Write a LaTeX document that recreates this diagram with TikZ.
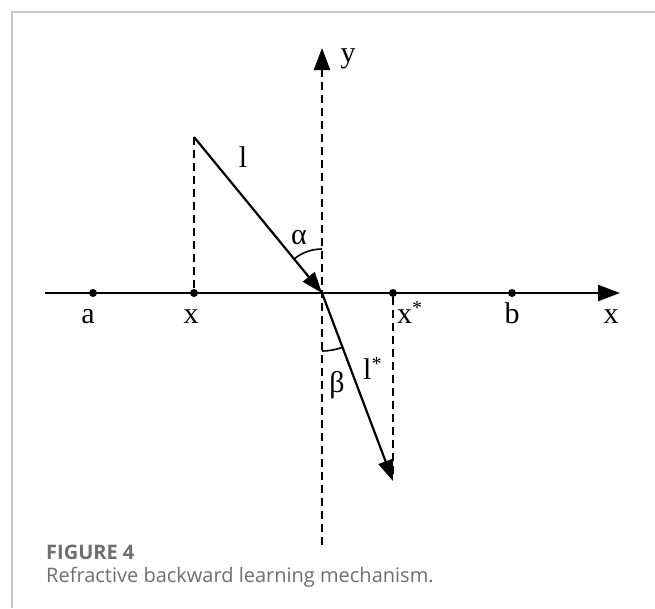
\documentclass[tikz,border=0pt]{standalone}
\usepackage{fontspec}
\setmainfont{Liberation Serif}
\newfontfamily\capfont{Open Sans}
\usetikzlibrary{arrows.meta}
\definecolor{framegray}{HTML}{C8C8C8}
\definecolor{capgray}{HTML}{6E6E6E}
\tikzset{
  axis/.style={line width=2.4pt,-{Triangle[length=22pt,width=16pt]}},
  ray/.style={line width=2.2pt,-{Triangle[length=21pt,width=15pt]}},
  guide/.style={line width=2.2pt,dash pattern=on 8pt off 5pt},
  pt/.style={circle,fill=black,inner sep=0pt,minimum size=8pt},
  lbl/.style={font=\fontsize{30}{30}\selectfont,inner sep=0pt,anchor=base},
  captext/.style={font=\capfont\fontsize{20}{20}\selectfont,text=capgray,inner sep=0pt,anchor=base west},
}
\begin{document}
\begin{tikzpicture}[x=1pt,y=-1pt]
\useasboundingbox (0,0) rectangle (655,608);
\draw[framegray,line width=1.2pt] (12,608) -- (12,12) -- (655,12);
% coordinates
\coordinate (O) at (322,293);
\coordinate (L) at (45,293);
\coordinate (R) at (620,293);
\coordinate (Yb) at (322,545);
\coordinate (Yt) at (322,48);
\coordinate (S) at (194,137);
\coordinate (E) at (393,481);
\coordinate (Eb) at (393,478);
% axes
\draw[guide] (Yb) -- (322,72);
\draw[axis] (322,74) -- (Yt);
\draw[axis] (L) -- (R);
% guides
\draw[guide] (S) -- (194,293);
\node[pt] (pa) at (93,293) {};
\node[pt] (px) at (194,293) {};
\node[pt] (pxs) at (393,293) {};
\node[pt] (pb) at (512,293) {};
\draw[guide] (pxs) -- (Eb);
% rays
\draw[ray] (S) -- (O);
\draw[ray] (O) -- (E);
% arcs
\draw[line width=1.6pt] (O) ++(270:44) arc[start angle=270,end angle=230.6,radius=44];
\draw[line width=1.6pt] (O) ++(90:58) arc[start angle=90,end angle=69.2,radius=58];
% labels
\node[lbl] (ta) at (88,323) {a};
\node[lbl] (tx) at (191,323) {x};
\node[lbl,anchor=base west] (txs) at (397,323) {x\raisebox{9pt}{\fontsize{20}{20}\selectfont *}};
\node[lbl] (tb) at (512,323) {b};
\node[lbl] (tX) at (611,323) {x};
\node[lbl] (ty) at (348,62) {y};
\node[lbl] (tl) at (243,167) {l};
\node[lbl] (tal) at (299,244) {α};
\node[lbl] (tbe) at (337,392) {β};
\node[lbl,anchor=base west] (tls) at (363,379) {l\raisebox{9pt}{\fontsize{20}{20}\selectfont *}};
% caption
\node[captext,font=\capfont\bfseries\fontsize{20}{20}\selectfont] (fig) at (46,559) {FIGURE 4};
\node[captext] (capt) at (46,582) {Refractive backward learning mechanism.};
\end{tikzpicture}
\end{document}
